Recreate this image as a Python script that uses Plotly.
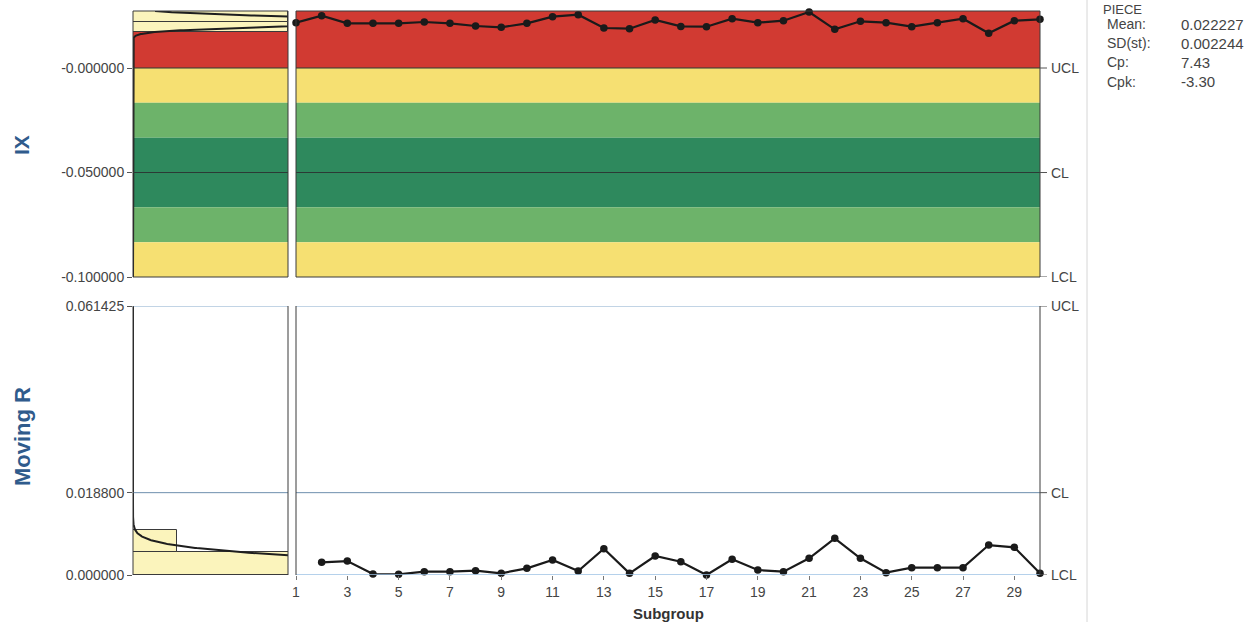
import numpy as np
import plotly.graph_objects as go

# ---- data -------------------------------------------------------------
subgroups = list(range(1, 31))
ix_values = [0.02167, 0.02502, 0.02137, 0.02137, 0.02137, 0.02201, 0.02137, 0.02009, 0.01947, 0.02137,
             0.02455, 0.02550, 0.01914, 0.01880, 0.02297, 0.01990, 0.01976, 0.02359, 0.02167, 0.02263,
             0.02679, 0.01851, 0.02234, 0.02167, 0.01976, 0.02167, 0.02359, 0.01660, 0.02263, 0.02330]

mr_subgroups = list(range(2, 31))
mr_values = [0.00290, 0.00319, 0.00023, 0.00016, 0.00075, 0.00075, 0.00098, 0.00039, 0.00152, 0.00342,
             0.00091, 0.00600, 0.00039, 0.00433, 0.00304, 0.00000, 0.00358, 0.00114, 0.00075, 0.00381,
             0.00837, 0.00381, 0.00053, 0.00167, 0.00167, 0.00167, 0.00684, 0.00632, 0.00039]

# control limits
ix_limits = {"UCL": 0.0, "CL": -0.05, "LCL": -0.1}
ix_tick_vals = [-0.1, -0.05, 0.0]
ix_tick_text = ["-0.100000", "-0.050000", "-0.000000"]
mr_limits = {"UCL": 0.061425, "CL": 0.0188, "LCL": 0.0}
mr_tick_vals = [0.0, 0.0188, 0.061425]
mr_tick_text = ["0.000000", "0.018800", "0.061425"]

# process statistics
stat_labels = ["Mean:", "SD(st):", "Cp:", "Cpk:"]
stat_values = ["0.022227", "0.002244", "7.43", "-3.30"]
ix_mean = 0.022227
ix_sd = 0.002244

# side histograms (bin edges and counts)
ix_bin_edges = [0.0172, 0.0222, 0.0272]
ix_bin_counts = [15, 15]
mr_bin_edges = [0.0, 0.00515, 0.0103]
mr_bin_counts = [25, 4]

# ---- geometry helpers ---------------------------------------------------
W, H = 1254, 622


def px(x):
    return x / W


def py(y):
    return 1 - y / H


hist_dom = [px(133), px(288)]
main_dom = [px(296), px(1040)]
top_dom = [py(277), py(11)]
bot_dom = [py(575), py(306)]
ix_top = 0.02727

RED = "#D13A32"
YELLOW = "#F6E072"
LGREEN = "#6DB36A"
DGREEN = "#2E895D"
PALE = "#FBF4BC"
DARK = "#3a3a3a"

fig = go.Figure()


# ---- side histograms ---------------------------------------------------
def hist_trace(edges, counts, xa, ya):
    centers = [(a + b) / 2 for a, b in zip(edges[:-1], edges[1:])]
    widths = [b - a for a, b in zip(edges[:-1], edges[1:])]
    return go.Bar(y=centers, x=counts, width=widths, orientation="h",
                  marker=dict(color=PALE, line=dict(color=DARK, width=1)),
                  xaxis=xa, yaxis=ya, showlegend=False, hoverinfo="skip")


fig.add_trace(hist_trace(ix_bin_edges, ix_bin_counts, "x", "y"))
fig.add_trace(hist_trace(mr_bin_edges, mr_bin_counts, "x3", "y3"))

# fitted normal curve for individuals
n_ix = len(ix_values)
bw_ix = ix_bin_edges[1] - ix_bin_edges[0]
yy = np.linspace(-0.1, ix_top, 1500)
pdf = np.exp(-0.5 * ((yy - ix_mean) / ix_sd) ** 2) / (ix_sd * np.sqrt(2 * np.pi))
fig.add_trace(go.Scatter(x=n_ix * bw_ix * pdf, y=yy, mode="lines",
                         line=dict(color="#1e1e1e", width=2), xaxis="x", yaxis="y",
                         showlegend=False, hoverinfo="skip"))

# half-normal curve for moving ranges
n_mr = len(mr_values)
bw_mr = mr_bin_edges[1] - mr_bin_edges[0]
sd_mr = np.sqrt(2) * ix_sd
mm = np.linspace(0, mr_limits["UCL"], 1500)
pdf_mr = 2 * np.exp(-0.5 * (mm / sd_mr) ** 2) / (sd_mr * np.sqrt(2 * np.pi))
fig.add_trace(go.Scatter(x=n_mr * bw_mr * pdf_mr, y=mm, mode="lines",
                         line=dict(color="#1e1e1e", width=2), xaxis="x3", yaxis="y3",
                         showlegend=False, hoverinfo="skip"))

# ---- control chart series ---------------------------------------------
fig.add_trace(go.Scatter(x=subgroups, y=ix_values, mode="lines+markers",
                         line=dict(color="#1a1a1a", width=2.2),
                         marker=dict(color="#1a1a1a", size=7.5),
                         xaxis="x2", yaxis="y2", cliponaxis=False,
                         showlegend=False))
fig.add_trace(go.Scatter(x=mr_subgroups, y=mr_values, mode="lines+markers",
                         line=dict(color="#1a1a1a", width=2.2),
                         marker=dict(color="#1a1a1a", size=7.5),
                         xaxis="x4", yaxis="y4", cliponaxis=False,
                         showlegend=False))

# ---- zone bands ----------------------------------------------------------
shapes = []
s = (ix_limits["UCL"] - ix_limits["CL"]) / 3
cl = ix_limits["CL"]
bands = [
    (ix_limits["UCL"], ix_top, RED),
    (cl + 2 * s, ix_limits["UCL"], YELLOW),
    (cl + s, cl + 2 * s, LGREEN),
    (cl - s, cl + s, DGREEN),
    (cl - 2 * s, cl - s, LGREEN),
    (ix_limits["LCL"], cl - 2 * s, YELLOW),
]
for xr in ["x domain", "x2 domain"]:
    for y0, y1, c in bands:
        shapes.append(dict(type="rect", xref=xr, yref="y", x0=0, x1=1, y0=y0, y1=y1,
                           fillcolor=c, line=dict(width=0), layer="below"))
    for key in ["UCL", "CL"]:
        shapes.append(dict(type="line", xref=xr, yref="y", x0=0, x1=1,
                           y0=ix_limits[key], y1=ix_limits[key],
                           line=dict(color="#2b3a35", width=1), layer="above"))

# limit lines on the moving range panels
for xr in ["x3 domain", "x4 domain"]:
    shapes.append(dict(type="line", xref=xr, yref="y3", x0=0, x1=1,
                       y0=mr_limits["UCL"], y1=mr_limits["UCL"],
                       line=dict(color="#86A9CC", width=1)))
    shapes.append(dict(type="line", xref=xr, yref="y3", x0=0, x1=1,
                       y0=mr_limits["CL"], y1=mr_limits["CL"],
                       line=dict(color="#6E8FAE", width=1)))
shapes.append(dict(type="line", xref="x4 domain", yref="y3", x0=0, x1=1,
                   y0=mr_limits["LCL"], y1=mr_limits["LCL"],
                   line=dict(color="#9CC2E4", width=1.5)))
shapes.append(dict(type="line", xref="x3 domain", yref="y3", x0=0, x1=1,
                   y0=mr_limits["LCL"], y1=mr_limits["LCL"],
                   line=dict(color=DARK, width=1)))

# panel borders
for xr, yr in [("x domain", "y domain"), ("x2 domain", "y2 domain")]:
    shapes.append(dict(type="rect", xref=xr, yref=yr, x0=0, x1=1, y0=0, y1=1,
                       line=dict(color=DARK, width=1), layer="above"))
for xr in ["x3 domain", "x4 domain"]:
    for xv in [0, 1]:
        shapes.append(dict(type="line", xref=xr, yref="y3 domain", x0=xv, x1=xv, y0=0, y1=1,
                           line=dict(color=DARK, width=1)))

# vertical separator beside the statistics block
shapes.append(dict(type="line", xref="paper", yref="paper", x0=px(1087), x1=px(1087),
                   y0=0, y1=1, line=dict(color="#d6d6d6", width=1)))

# limit tags on the right edge
annotations = []
for yref, lims in [("y2", ix_limits), ("y4", mr_limits)]:
    for key, val in lims.items():
        shapes.append(dict(type="line", xref="paper", yref=yref, x0=px(1040), x1=px(1047),
                           y0=val, y1=val, line=dict(color="#555", width=1)))
        annotations.append(dict(xref="paper", yref=yref, x=px(1049), y=val, text=key,
                                showarrow=False, xanchor="left", yanchor="middle",
                                font=dict(size=14, color="#444")))

# statistics block
annotations.append(dict(xref="paper", yref="paper", x=px(1101), y=py(0), text="PIECE",
                        showarrow=False, xanchor="left", yanchor="top",
                        font=dict(size=13, color="#444")))
for i, (lab, val) in enumerate(zip(stat_labels, stat_values)):
    yv = py(24 + i * 19.2)
    annotations.append(dict(xref="paper", yref="paper", x=px(1105), y=yv, text=lab,
                            showarrow=False, xanchor="left", yanchor="middle",
                            font=dict(size=14, color="#444")))
    annotations.append(dict(xref="paper", yref="paper", x=px(1179), y=yv, text=val,
                            showarrow=False, xanchor="left", yanchor="middle",
                            font=dict(size=15, color="#444")))

# axis titles
annotations.append(dict(xref="paper", yref="paper", x=px(21), y=py(145), text="<b>IX</b>",
                        textangle=-90, showarrow=False, xanchor="center", yanchor="middle",
                        font=dict(size=21, color="#2F5B8C")))
annotations.append(dict(xref="paper", yref="paper", x=px(22), y=py(437), text="<b>Moving R</b>",
                        textangle=-90, showarrow=False, xanchor="center", yanchor="middle",
                        font=dict(size=22, color="#2F5B8C")))
annotations.append(dict(xref="paper", yref="paper", x=px(668), y=py(613), text="<b>Subgroup</b>",
                        showarrow=False, xanchor="center", yanchor="middle",
                        font=dict(size=15, color="#333")))

hidden = dict(showticklabels=False, showgrid=False, zeroline=False, ticks="", showline=False,
              automargin=False)
ytick_style = dict(ticks="outside", ticklen=5, tickcolor="#555", showgrid=False, zeroline=False,
                   tickfont=dict(size=14, color="#444"), showline=False, automargin=False)

fig.update_layout(
    width=W, height=H, margin=dict(l=0, r=0, t=0, b=0, autoexpand=False),
    paper_bgcolor="white", plot_bgcolor="white",
    font=dict(family="Liberation Sans, Arial, sans-serif"),
    bargap=0, showlegend=False,
    xaxis=dict(domain=hist_dom, range=[0, 15], anchor="y", **hidden),
    yaxis=dict(domain=top_dom, range=[-0.1, ix_top], anchor="x",
               tickvals=ix_tick_vals, ticktext=ix_tick_text, **ytick_style),
    xaxis2=dict(domain=main_dom, range=[1, 30], anchor="y2", **hidden),
    yaxis2=dict(domain=top_dom, range=[-0.1, ix_top], anchor="x2", matches="y", **hidden),
    xaxis3=dict(domain=hist_dom, range=[0, 14], anchor="y3", **hidden),
    yaxis3=dict(domain=bot_dom, range=[0, mr_limits["UCL"]], anchor="x3",
                tickvals=mr_tick_vals, ticktext=mr_tick_text, **ytick_style),
    xaxis4=dict(domain=main_dom, range=[1, 30], anchor="y4", showgrid=False, zeroline=False,
                tickvals=list(range(1, 30, 2)), ticks="outside", ticklen=4, tickcolor="#777",
                tickfont=dict(size=14, color="#444"), showline=False, automargin=False),
    yaxis4=dict(domain=bot_dom, range=[0, mr_limits["UCL"]], anchor="x4", matches="y3", **hidden),
    shapes=shapes, annotations=annotations,
)

fig.write_html("out.html")
